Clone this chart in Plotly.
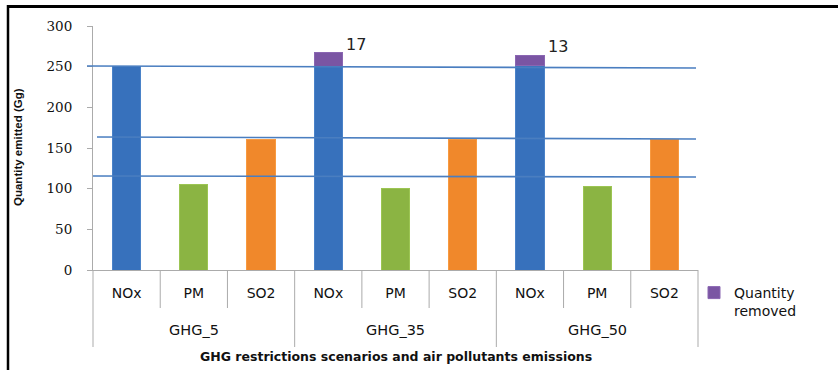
import plotly.graph_objects as go

# ---- data ----
groups = ["GHG_5", "GHG_35", "GHG_50"]
pollutants = ["NOx", "PM", "SO2"]
nox = [250, 250, 251]
pm = [105, 100, 103]
so2 = [161, 160, 160]
removed = [0, 17, 13]
removed_labels = ["", "17", "13"]
# reference lines drawn across the plot (left value, right value)
ref_lines = [(250.8, 248.4), (163.5, 161.0), (115.6, 114.4)]

W, H = 838, 370
ML, MR, MT, MB = 93, 140, 26, 100
PW, PH = W - ML - MR, H - MT - MB


def px(x):
    return (x - ML) / PW


def py(y):
    return (H - MB - y) / PH


ncat = len(groups) * len(pollutants)
tick_pos = list(range(ncat))
tick_txt = [p for g in groups for p in pollutants]
idx = {(g, p): gi * len(pollutants) + pi for gi, g in enumerate(groups) for pi, p in enumerate(pollutants)}

fig = go.Figure()
fig.add_bar(x=[idx[(g, "NOx")] for g in groups], y=nox, marker_color="#3771BC",
            marker_line=dict(color="#4A82C8", width=1), showlegend=False, width=0.42, name="NOx")
fig.add_bar(x=[idx[(g, "PM")] for g in groups], y=pm, marker_color="#8BB443",
            marker_line=dict(color="#9CC553", width=1), showlegend=False, width=0.42, name="PM")
fig.add_bar(x=[idx[(g, "SO2")] for g in groups], y=so2, marker_color="#F0882B",
            marker_line=dict(color="#F89A40", width=1), showlegend=False, width=0.42, name="SO2")
rx = [idx[(g, "NOx")] for g, r in zip(groups, removed) if r > 0]
ry = [r for r in removed if r > 0]
fig.add_bar(x=rx, y=ry, marker_color="#7A55A3", marker_line=dict(color="#8A66B2", width=1),
            width=0.42, name="Quantity<br>removed", showlegend=True)

# data labels for removed quantity
for g, r, lab, base in zip(groups, removed, removed_labels, nox):
    if r > 0:
        fig.add_annotation(x=idx[(g, "NOx")], y=base + r, text=lab, showarrow=False,
                           xanchor="left", yanchor="bottom", xshift=16, yshift=-3,
                           font=dict(family="DejaVu Sans", size=16, color="#222"))

shapes = []
# reference blue lines
starts = [px(87), px(97), px(93)]
for (yl, yr), x0 in zip(ref_lines, starts):
    shapes.append(dict(type="line", xref="paper", yref="y", x0=x0, x1=px(696), y0=yl, y1=yr,
                       line=dict(color="#4A7EC0", width=1.6), layer="above"))

# category separators
for i in range(ncat + 1):
    big = (i % len(pollutants) == 0)
    shapes.append(dict(type="line", xref="paper", yref="paper", x0=i / ncat, x1=i / ncat,
                       y0=0, y1=py(347 if big else 308),
                       line=dict(color="#ABABAB", width=1)))
# outer frame lines (black)
shapes.append(dict(type="line", xref="paper", yref="paper", x0=px(7), x1=px(840), y0=py(6.5), y1=py(6.5),
                   line=dict(color="black", width=3)))
shapes.append(dict(type="line", xref="paper", yref="paper", x0=px(8), x1=px(8), y0=py(5), y1=py(372),
                   line=dict(color="black", width=2.5)))

# group labels
for gi, g in enumerate(groups):
    fig.add_annotation(xref="x", yref="paper", x=gi * len(pollutants) + 1, y=py(330), text=g,
                       showarrow=False, yanchor="middle",
                       font=dict(family="DejaVu Sans", size=14.5, color="#111"))
# x-axis title
fig.add_annotation(xref="paper", yref="paper", x=px(396), y=py(356), yanchor="middle",
                   text="<b>GHG restrictions scenarios and air pollutants emissions</b>",
                   showarrow=False, font=dict(family="DejaVu Sans", size=12.5, color="#111"))
# y-axis title
fig.add_annotation(xref="paper", yref="paper", x=px(18), y=py(147), textangle=-90,
                   xanchor="center", yanchor="middle",
                   text="<b>Quantity emitted (Gg)</b>", showarrow=False,
                   font=dict(family="Liberation Sans Narrow, Liberation Sans", size=11.5, color="#111"))

fig.update_layout(
    width=W, height=H, margin=dict(l=ML, r=MR, t=MT, b=MB, pad=0, autoexpand=False),
    paper_bgcolor="white", plot_bgcolor="white", barmode="stack",
    shapes=shapes,
    legend=dict(x=px(694), y=py(277), xanchor="left", yanchor="top", valign="top",
                font=dict(family="DejaVu Sans", size=14, color="#111"),
                bgcolor="rgba(0,0,0,0)", itemwidth=30, tracegroupgap=0),
    xaxis=dict(range=[-0.5, ncat - 0.5], tickvals=tick_pos, ticktext=tick_txt,
               showgrid=False, zeroline=False, showline=True, linecolor="#ABABAB",
               ticks="", tickfont=dict(family="DejaVu Sans", size=14, color="#111"),
               ticklabelstandoff=10),
    yaxis=dict(range=[0, 300], dtick=50, showgrid=False, zeroline=False, showline=True,
               linecolor="#ABABAB", ticks="outside", ticklen=5, tickcolor="#ABABAB",
               tickfont=dict(family="DejaVu Serif", size=13.5, color="#111"),
               ticklabelstandoff=12),
)

fig.write_html("out.html", config={"displayModeBar": False},
               post_script="document.body.style.margin='0';document.body.style.overflow='hidden';")
